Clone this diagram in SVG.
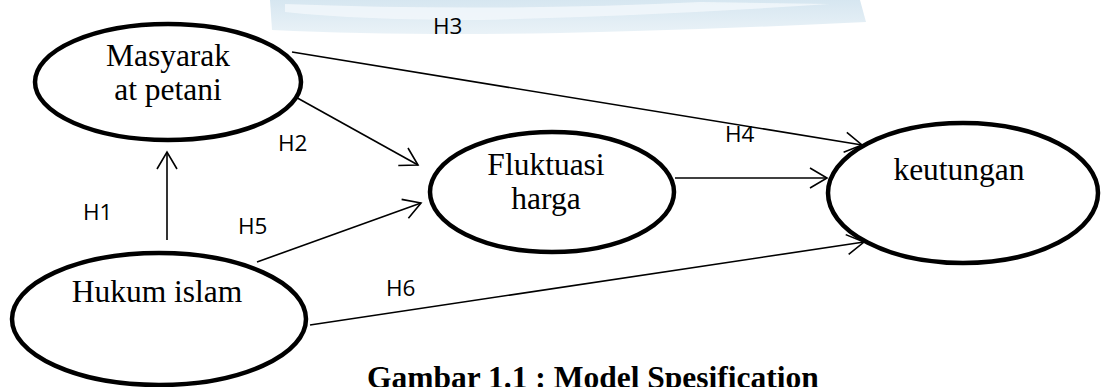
<svg xmlns="http://www.w3.org/2000/svg" width="1101" height="387" viewBox="0 0 1101 387">
  <style>
    .node { fill: #ffffff; stroke: #000000; stroke-width: 4.5; }
    .ntext { font-family: "Liberation Serif", "Times New Roman", serif; font-size: 31.5px; fill: #000000; text-anchor: middle; }
    .conn { stroke: #000000; stroke-width: 1.6; fill: none; marker-end: url(#arrow); }
    .lbl { font-family: "Open Sans", "Liberation Sans", sans-serif; font-size: 22.5px; fill: #000000; }
    .caption { font-family: "Liberation Serif", "Times New Roman", serif; font-size: 31.5px; font-weight: bold; fill: #000000; }
  </style>
  <defs>
    <marker id="arrow" markerUnits="userSpaceOnUse" viewBox="-20 -12 22 24" markerWidth="22" markerHeight="24" refX="0" refY="0" orient="auto">
      <path d="M-17,-10 L0,0 L-17,10" fill="none" stroke="#000000" stroke-width="1.6"/>
    </marker>
    <linearGradient id="wm" x1="0" y1="0" x2="0" y2="1">
      <stop offset="0" stop-color="#cfe2ee"/>
      <stop offset="1" stop-color="#e6f0f6"/>
    </linearGradient>
  </defs>
  <rect width="1101" height="387" fill="#ffffff"/>

  <g id="watermark">
    <path d="M270,0 L860,0 L866,22 Q700,30 560,33 Q400,36 272,30 Z" fill="url(#wm)" opacity="0.85"/>
    <path d="M285,4 Q500,12 700,2 L830,4 Q650,16 480,20 Q360,20 285,12 Z" fill="#f3f8fb" opacity="0.8"/>
  </g>

  <g id="connectors">
    <line class="conn" x1="167" y1="240" x2="167" y2="152"/>
    <line class="conn" x1="292" y1="95" x2="418" y2="165"/>
    <line class="conn" x1="292" y1="52" x2="862" y2="145"/>
    <line class="conn" x1="675" y1="178" x2="827" y2="178"/>
    <line class="conn" x1="257" y1="262" x2="421" y2="203"/>
    <line class="conn" x1="310" y1="325" x2="864" y2="242"/>
  </g>

  <g id="node-masyarakat">
    <ellipse class="node" cx="168" cy="82" rx="133" ry="58"/>
    <text class="ntext" x="168" y="66">Masyarak</text>
    <text class="ntext" x="168" y="100">at petani</text>
  </g>

  <g id="node-fluktuasi">
    <ellipse class="node" cx="552" cy="192" rx="122" ry="60"/>
    <text class="ntext" x="546" y="175">Fluktuasi</text>
    <text class="ntext" x="546" y="209">harga</text>
  </g>

  <g id="node-keutungan">
    <ellipse class="node" cx="963" cy="193" rx="135" ry="70"/>
    <text class="ntext" x="959" y="180">keutungan</text>
  </g>

  <g id="node-hukum">
    <ellipse class="node" cx="159" cy="319" rx="147" ry="66"/>
    <text class="ntext" x="157" y="302">Hukum islam</text>
  </g>

  <g id="labels">
    <text class="lbl" x="83" y="220">H1</text>
    <text class="lbl" x="278" y="151">H2</text>
    <text class="lbl" x="433" y="34">H3</text>
    <text class="lbl" x="725" y="142">H4</text>
    <text class="lbl" x="238" y="234">H5</text>
    <text class="lbl" x="386" y="296">H6</text>
  </g>

  <text class="caption" x="367" y="388">Gambar 1.1 : Model Spesification</text>
</svg>
